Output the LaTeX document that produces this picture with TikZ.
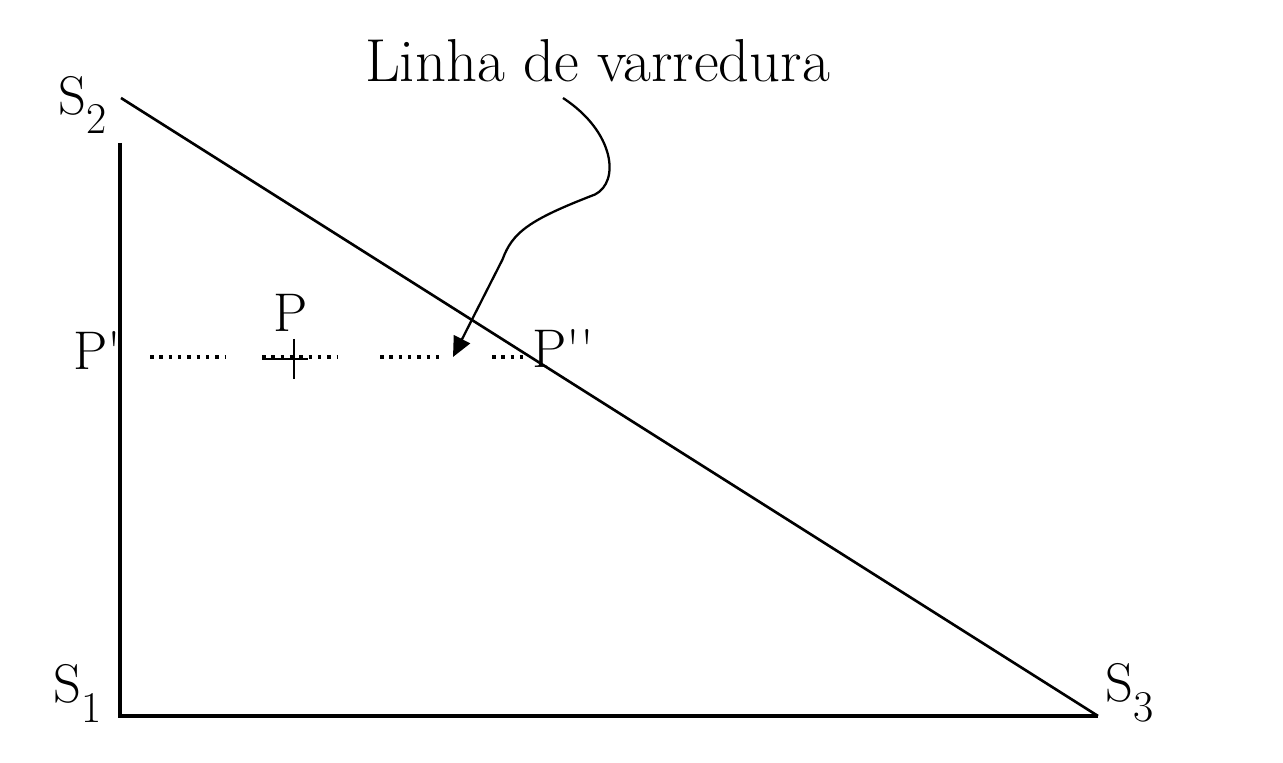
\documentclass[tikz,border=0pt]{standalone}
\usepackage{tikz}
\usetikzlibrary{positioning, arrows.meta}
\newcommand{\subidx}[1]{\raisebox{-0.38cm}{\fontsize{25}{25}\selectfont #1}}

\begin{document}
\begin{tikzpicture}[lbl/.style={inner sep=0pt, font=\fontsize{31}{37}\selectfont}, eixo/.style={line width=2pt}, varr/.style={dash pattern=on 2pt off 3.3pt, line width=1.8pt}]
    \useasboundingbox (0,0) rectangle (25.66,15.24);
    % Vertices
    \coordinate (s1) at (2.4,0.92);
    \coordinate (s1top) at (2.4,12.38);
    \coordinate (s2) at (2.42,13.28);
    \coordinate (s3) at (21.96,0.92);
    
    % Rotulos
    \node[lbl, anchor=base west] (ls2) at (1.16,12.94) {S\subidx{2}};
    \node[lbl, anchor=base west] (ls1) at (1.06,1.18) {S\subidx{1}};
    \node[lbl, anchor=base west] (ls3) at (22.1,1.2) {S\subidx{3}};
    \node[lbl, anchor=base west] (lp1) at (1.46,7.84) {P\textquotesingle};
    \node[lbl, anchor=base west] (lp) at (5.46,8.6) {P};
    \node[lbl, anchor=base west] (lp2) at (10.64,7.88) {P\textquotesingle\textquotesingle};
    \node[lbl, anchor=base, font=\fontsize{34.5}{40}\selectfont] (linha) at (11.95,13.6) {Linha de varredura};
    
    % Triangulo
    \draw[eixo] (s1top) -- (s1) -- (s3);
    \draw[line width=1.5pt] (s2) -- (s3);
    
    % Linha pontilhada
    \coordinate (a1) at (3.0,8.1);
    \coordinate (a2) at (4.5,8.1);
    \coordinate (b1) at (5.24,8.1);
    \coordinate (b2) at (6.74,8.1);
    \coordinate (c1) at (7.6,8.1);
    \coordinate (c2) at (8.9,8.1);
    \coordinate (d1) at (9.84,8.1);
    \coordinate (d2) at (10.5,8.1);
    \draw[varr] (a1) -- (a2);
    \draw[varr] (b1) -- (b2);
    \draw[varr] (c1) -- (c2);
    \draw[varr] (d1) -- (d2);
    
    % Ponto P
    \coordinate (pc) at (5.88,8.06);
    \draw[line width=1.6pt] ([yshift=0.4cm]pc) -- ([yshift=-0.4cm]pc);
    \draw[line width=1.6pt] ([xshift=-0.64cm]pc) -- ([xshift=0.28cm]pc);
    
    % Seta
    \coordinate (c0) at (11.26,13.28);
    \coordinate (tip) at (9.06,8.1);
    \draw[line width=1.3pt, -{Triangle[length=0.4cm, width=0.36cm]}] (c0) .. controls (12.3,12.6) and (12.4,11.6) .. (11.9,11.35) .. controls (10.6,10.85) and (10.25,10.6) .. (10.05,10.05) -- (tip);
\end{tikzpicture}
\end{document}
